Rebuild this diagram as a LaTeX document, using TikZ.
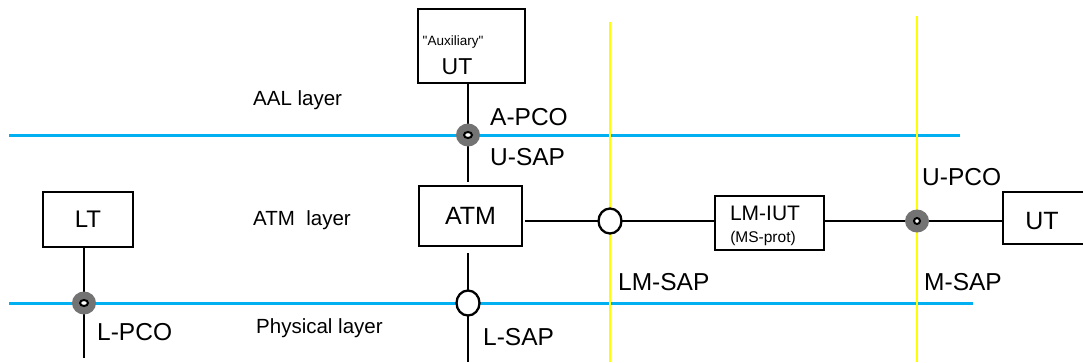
\documentclass[tikz,border=0pt]{standalone}
\usepackage{fontspec}
\setmainfont{Liberation Sans}
\newfontfamily\auxfont[Ligatures=TeXOff]{Liberation Sans}
\usetikzlibrary{shapes.geometric}
\definecolor{layerblue}{RGB}{0,176,240}
\definecolor{sapyellow}{RGB}{255,255,0}
\begin{document}
\begin{tikzpicture}[x=1pt,y=-1pt,
  box/.style={draw=black,line width=2.3pt,inner sep=0pt},
  lbl/.style={anchor=west,inner sep=0pt,font=\fontsize{24.5}{28}\selectfont},
  layerlbl/.style={anchor=west,inner sep=0pt,font=\fontsize{20.5}{24}\selectfont},
  conn/.style={line width=2.3pt,black},
  layerline/.style={line width=3pt,layerblue},
  sapline/.style={line width=2.6pt,sapyellow},
  pco/.style={ellipse,minimum width=24pt,minimum height=23pt,inner sep=0pt,fill=black!55},
  pcocore/.style={ellipse,minimum width=8pt,minimum height=6pt,inner sep=0pt,draw=black,line width=2pt,fill=white},
  sap/.style={ellipse,minimum width=23pt,minimum height=25pt,inner sep=0pt,draw=black,line width=2.3pt,fill=white}
]
\useasboundingbox (0,0) rectangle (1083,362);

% layer lines
\coordinate (aalL) at (9,135);
\coordinate (aalR) at (960,135);
\coordinate (phyL) at (9,303);
\coordinate (phyR) at (973,303);
\draw[layerline] (aalL) -- (aalR);
\draw[layerline] (phyL) -- (phyR);

% SAP boundary lines
\coordinate (y1t) at (610,22);
\coordinate (y1b) at (610,362);
\coordinate (y2t) at (917,16);
\coordinate (y2b) at (917,362);
\draw[sapline] (y1t) -- (y1b);
\draw[sapline] (y2t) -- (y2b);

% boxes
\node[box,minimum width=107pt,minimum height=74pt] (aux) at (471.5,46) {};
\node[inner sep=0pt,font=\auxfont\fontsize{13.5}{16}\selectfont] (auxlbl) at (453,42) {"Auxiliary"};
\node[inner sep=0pt,font=\fontsize{23}{26}\selectfont] (auxut) at (457,67) {UT};

\node[box,minimum width=103pt,minimum height=60pt,font=\fontsize{25}{28}\selectfont] (atm) at (470.5,216) {ATM};
\node[box,minimum width=90pt,minimum height=55pt,font=\fontsize{24}{28}\selectfont] (lt) at (88,219.5) {LT};
\node[box,minimum width=109pt,minimum height=54pt] (lmiut) at (769.5,223) {};
\node[inner sep=0pt,font=\fontsize{21}{24}\selectfont] (lmiutlbl) at (765,213) {LM-IUT};
\node[inner sep=0pt,font=\fontsize{15.5}{18}\selectfont] (msprot) at (763,238) {(MS-prot)};

\node[inner sep=0pt,minimum width=80pt,minimum height=52pt,anchor=west] (utr) at (1003,218) {};
\node[inner sep=0pt,font=\fontsize{25}{28}\selectfont] (utrlbl) at (1042,221) {UT};
\draw[line width=2.3pt] (utr.north east) -- (utr.north west) -- (utr.south west) -- (utr.south east);

% connection points
\coordinate (apco) at (468,135);
\coordinate (lsap) at (468,303);
\coordinate (lmsap) at (610,221);
\coordinate (msap) at (917,221);
\coordinate (lpco) at (84,303);
\coordinate (ltend) at (84,358);
\coordinate (atmend) at (468,362);

% connectors
\draw[conn,shorten >=3pt] (aux.south -| apco) -- (atm.north -| apco);
\draw[conn,shorten <=6pt] (atm.south -| apco) -- (atmend);
\draw[conn,shorten <=2pt] (atm.east |- lmsap) -- (lmiut.west |- lmsap);
\draw[conn] (lmiut.east |- msap) -- (utr.west |- msap);
\draw[conn] (lt.south -| lpco) -- (ltend);

% access points
\node[pco] (apcodot) at (apco) {};
\node[pcocore] at (apco) {};
\node[pco] (lpcodot) at (lpco) {};
\node[pcocore] at (lpco) {};
\node[pco] (msapdot) at (msap) {};
\node[pcocore,minimum width=6pt,minimum height=6pt] at (msap) {};
\node[sap] (lsapc) at (lsap) {};
\node[sap] (lmsapc) at (lmsap) {};

% labels
\node[lbl] (tapco) at (490,117) {A-PCO};
\node[lbl] (tusap) at (490,157) {U-SAP};
\node[lbl] (tupco) at (922,177) {U-PCO};
\node[lbl] (tmsap) at (924,282) {M-SAP};
\node[lbl] (tlmsap) at (618,282) {LM-SAP};
\node[lbl] (tlsap) at (483,337) {L-SAP};
\node[lbl] (tlpco) at (97,332) {L-PCO};

\node[layerlbl] (aal) at (253,100) {AAL layer};
\node[layerlbl] (atml) at (253,220) {ATM\ \ layer};
\node[layerlbl] (phy) at (256,328) {Physical layer};
\end{tikzpicture}
\end{document}
